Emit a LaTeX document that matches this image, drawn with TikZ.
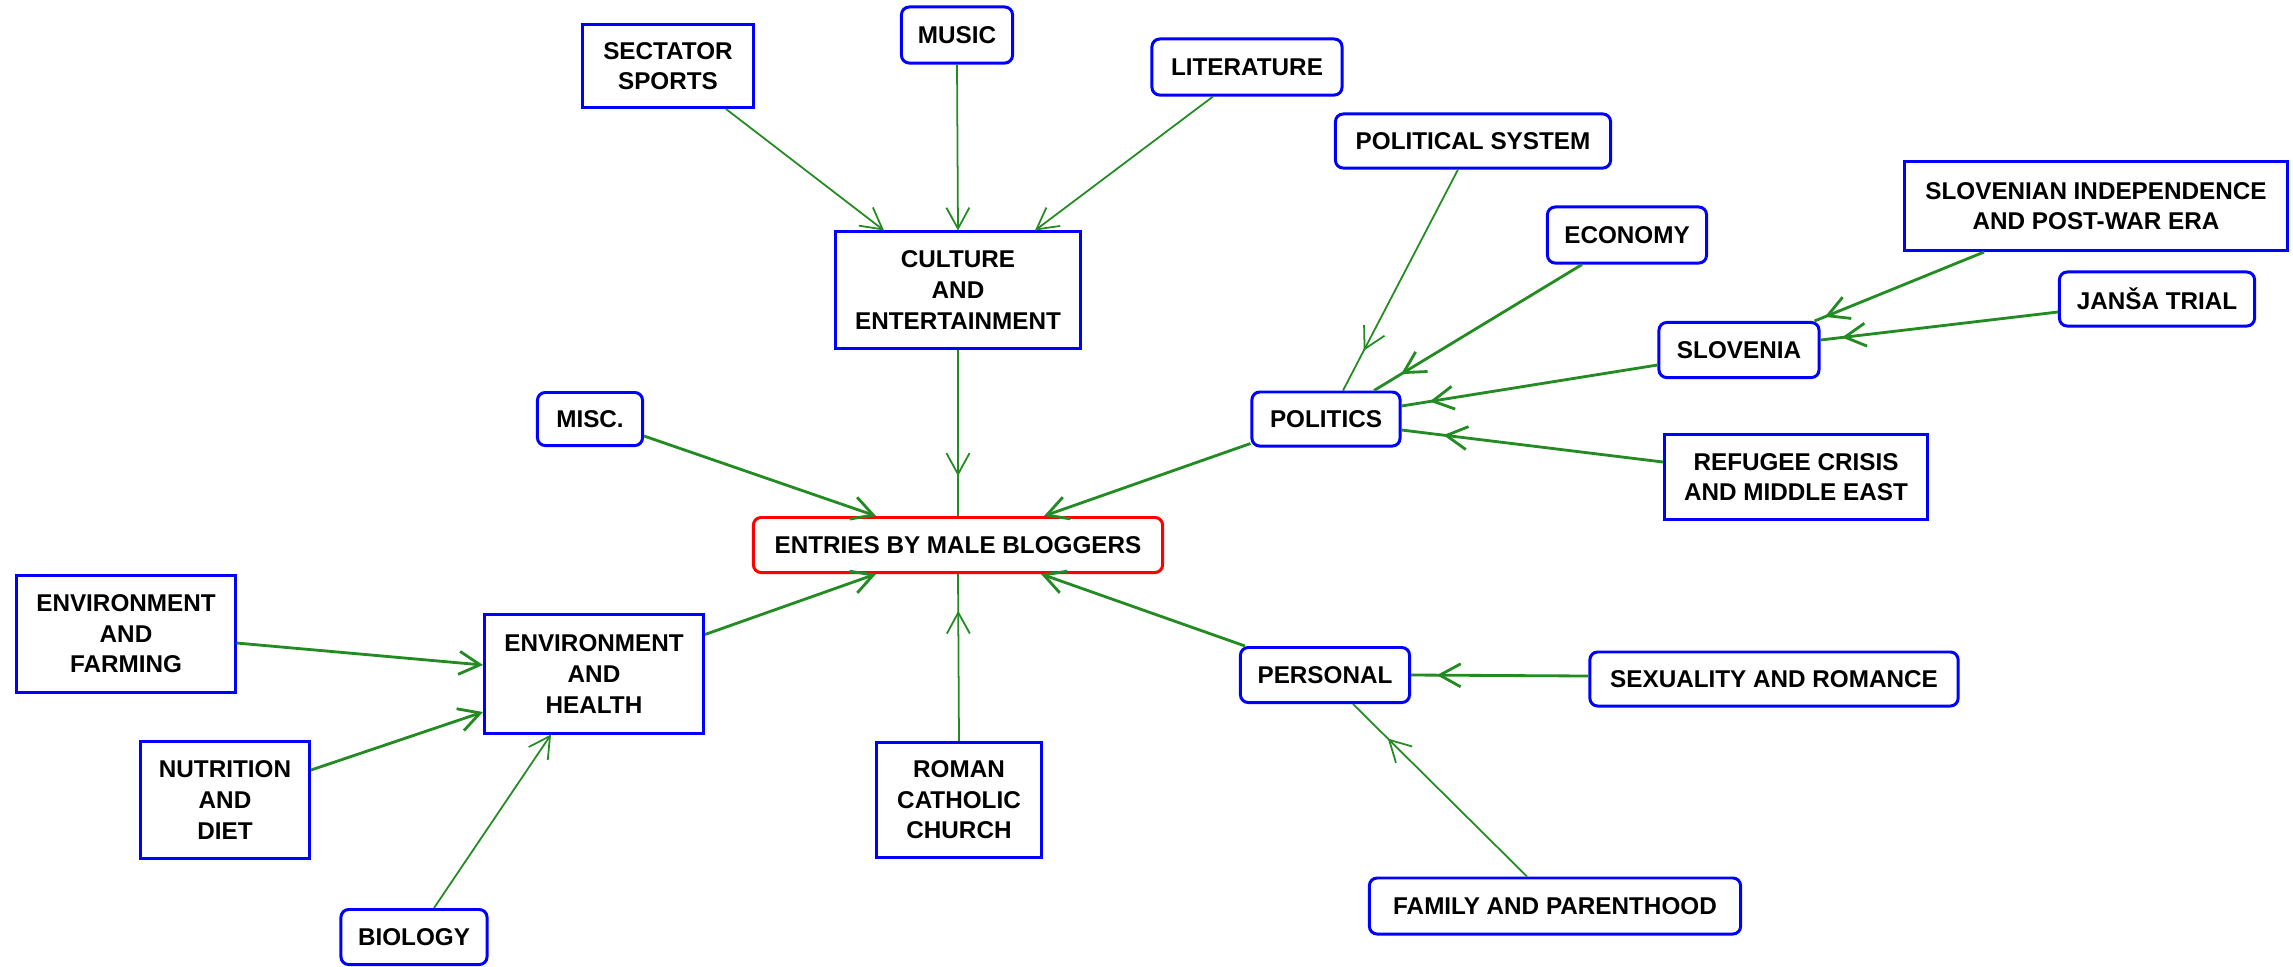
\documentclass[tikz,border=0pt]{standalone}
\usepackage{fontspec}
\setmainfont{Liberation Sans}
\usetikzlibrary{arrows.meta,calc,decorations.markings}
\definecolor{lnk}{RGB}{34,139,34}
\definecolor{bx}{RGB}{0,0,255}
\definecolor{hub}{RGB}{255,0,0}
\tikzset{
  boxbase/.style={draw=bx, line width=0.85pt, fill=white, text=black,
    font=\fontsize{6.9}{8.7}\selectfont\bfseries, align=center, inner sep=0pt},
  sq/.style={boxbase},
  rd/.style={boxbase, rounded corners=2.2pt},
  hubbox/.style={boxbase, draw=hub, rounded corners=2.2pt},
  link/.style={color=lnk, line width=0.5pt},
  linkb/.style={color=lnk, line width=0.8pt},
  tipend/.style={-{Straight Barb[length=0.21cm,width=0.23cm]}},
  tipat/.style={postaction={decorate}, decoration={markings,
    mark=at position #1 with {\arrow{Straight Barb[length=0.21cm,width=0.23cm]}}}}
}
\begin{document}
\begin{tikzpicture}[x=0.01cm, y=-0.01cm]
\fill[white] (0,0) rectangle (2293,966);
\useasboundingbox (0,0) rectangle (2293,966);

\node[sq, minimum width=1.70cm, minimum height=0.83cm] (sports) at (668,66) {SECTATOR\\SPORTS};
\node[rd, minimum width=1.11cm, minimum height=0.56cm] (music) at (957,35) {MUSIC};
\node[rd, minimum width=1.90cm, minimum height=0.56cm] (lit) at (1247,67) {LITERATURE};
\node[sq, minimum width=2.44cm, minimum height=1.16cm] (culture) at (958,290) {CULTURE\\AND\\ENTERTAINMENT};
\node[rd, minimum width=2.75cm, minimum height=0.54cm] (polsys) at (1473,141) {POLITICAL SYSTEM};
\node[rd, minimum width=1.59cm, minimum height=0.56cm] (economy) at (1627,235) {ECONOMY};
\node[sq, minimum width=3.82cm, minimum height=0.89cm] (slovind) at (2096,206) {SLOVENIAN INDEPENDENCE\\AND POST-WAR ERA};
\node[rd, minimum width=1.95cm, minimum height=0.54cm] (jansa) at (2157,299) {JANŠA TRIAL};
\node[rd, minimum width=1.60cm, minimum height=0.55cm] (slovenia) at (1739,350) {SLOVENIA};
\node[rd, minimum width=1.48cm, minimum height=0.54cm] (politics) at (1326,419) {POLITICS};
\node[sq, minimum width=2.63cm, minimum height=0.85cm] (refugee) at (1796,477) {REFUGEE CRISIS\\AND MIDDLE EAST};
\node[rd, minimum width=1.05cm, minimum height=0.53cm] (misc) at (590,419) {MISC.};
\node[hubbox, minimum width=4.09cm, minimum height=0.55cm] (center) at (958,545) {ENTRIES BY MALE BLOGGERS};
\node[sq, minimum width=2.18cm, minimum height=1.16cm] (envfarm) at (126,634) {ENVIRONMENT\\AND\\FARMING};
\node[sq, minimum width=2.19cm, minimum height=1.18cm] (envhealth) at (594,674) {ENVIRONMENT\\AND\\HEALTH};
\node[sq, minimum width=1.69cm, minimum height=1.16cm] (nutrition) at (225,800) {NUTRITION\\AND\\DIET};
\node[rd, minimum width=1.46cm, minimum height=0.55cm] (biology) at (414,937) {BIOLOGY};
\node[sq, minimum width=1.64cm, minimum height=1.15cm] (church) at (959,800) {ROMAN\\CATHOLIC\\CHURCH};
\node[rd, minimum width=1.69cm, minimum height=0.55cm] (personal) at (1325,675) {PERSONAL};
\node[rd, minimum width=3.68cm, minimum height=0.54cm] (sexuality) at (1774,679) {SEXUALITY AND ROMANCE};
\node[rd, minimum width=3.71cm, minimum height=0.56cm] (family) at (1555,906) {FAMILY AND PARENTHOOD};

\draw[link, tipend] ($(sports.south)+(58,0)$) -- ($(culture.north)+(-74,0)$);
\draw[link, tipend] (music.south) -- (culture.north);
\draw[link, tipend] ($(lit.south)+(-34,0)$) -- ($(culture.north)+(77,0)$);
\draw[link, tipat=0.76] (culture.south) -- (center.north);
\draw[linkb, tipend] ($(misc.east)+(0,17)$) -- ($(center.north)+(-82,0)$);
\draw[linkb, tipend] ($(politics.south west)+(0,-4)$) -- ($(center.north)+(86,0)$);
\draw[linkb, tipend] ($(envhealth.north east)+(0,21)$) -- ($(center.south)+(-82,0)$);
\draw[link, tipat=0.78] (church.north) -- (center.south);
\draw[linkb, tipend] ($(personal.north west)+(6,0)$) -- ($(center.south)+(83,0)$);
\draw[link, tipat=0.82] ($(polsys.south)+(-15,0)$) -- ($(politics.north)+(17,0)$);
\draw[linkb, tipat=0.87] ($(economy.south)+(-45,0)$) -- ($(politics.north)+(48,0)$);
\draw[linkb, tipat=0.89] ($(slovenia.west)+(0,15)$) -- ($(politics.east)+(0,-13)$);
\draw[linkb, tipat=0.84] ($(refugee.west)+(0,-15)$) -- ($(politics.east)+(0,11)$);
\draw[linkb, tipat=0.94] ($(slovind.south)+(-112,0)$) -- ($(slovenia.north east)+(-6,0)$);
\draw[linkb, tipat=0.91] ($(jansa.west)+(0,13)$) -- ($(slovenia.east)+(0,-10)$);
\draw[linkb, tipat=0.855] ($(sexuality.west)+(0,-3)$) -- (personal.east);
\draw[link, tipat=0.80] ($(family.north)+(-28,0)$) -- ($(personal.south)+(28,0)$);
\draw[linkb, tipend] ($(envfarm.east)+(0,9)$) -- ($(envhealth.west)+(0,-9)$);
\draw[linkb, tipend] ($(nutrition.east)+(0,-30)$) -- ($(envhealth.west)+(0,38)$);
\draw[link, tipend] ($(biology.north)+(20,0)$) -- ($(envhealth.south)+(-43,0)$);
\end{tikzpicture}
\end{document}
